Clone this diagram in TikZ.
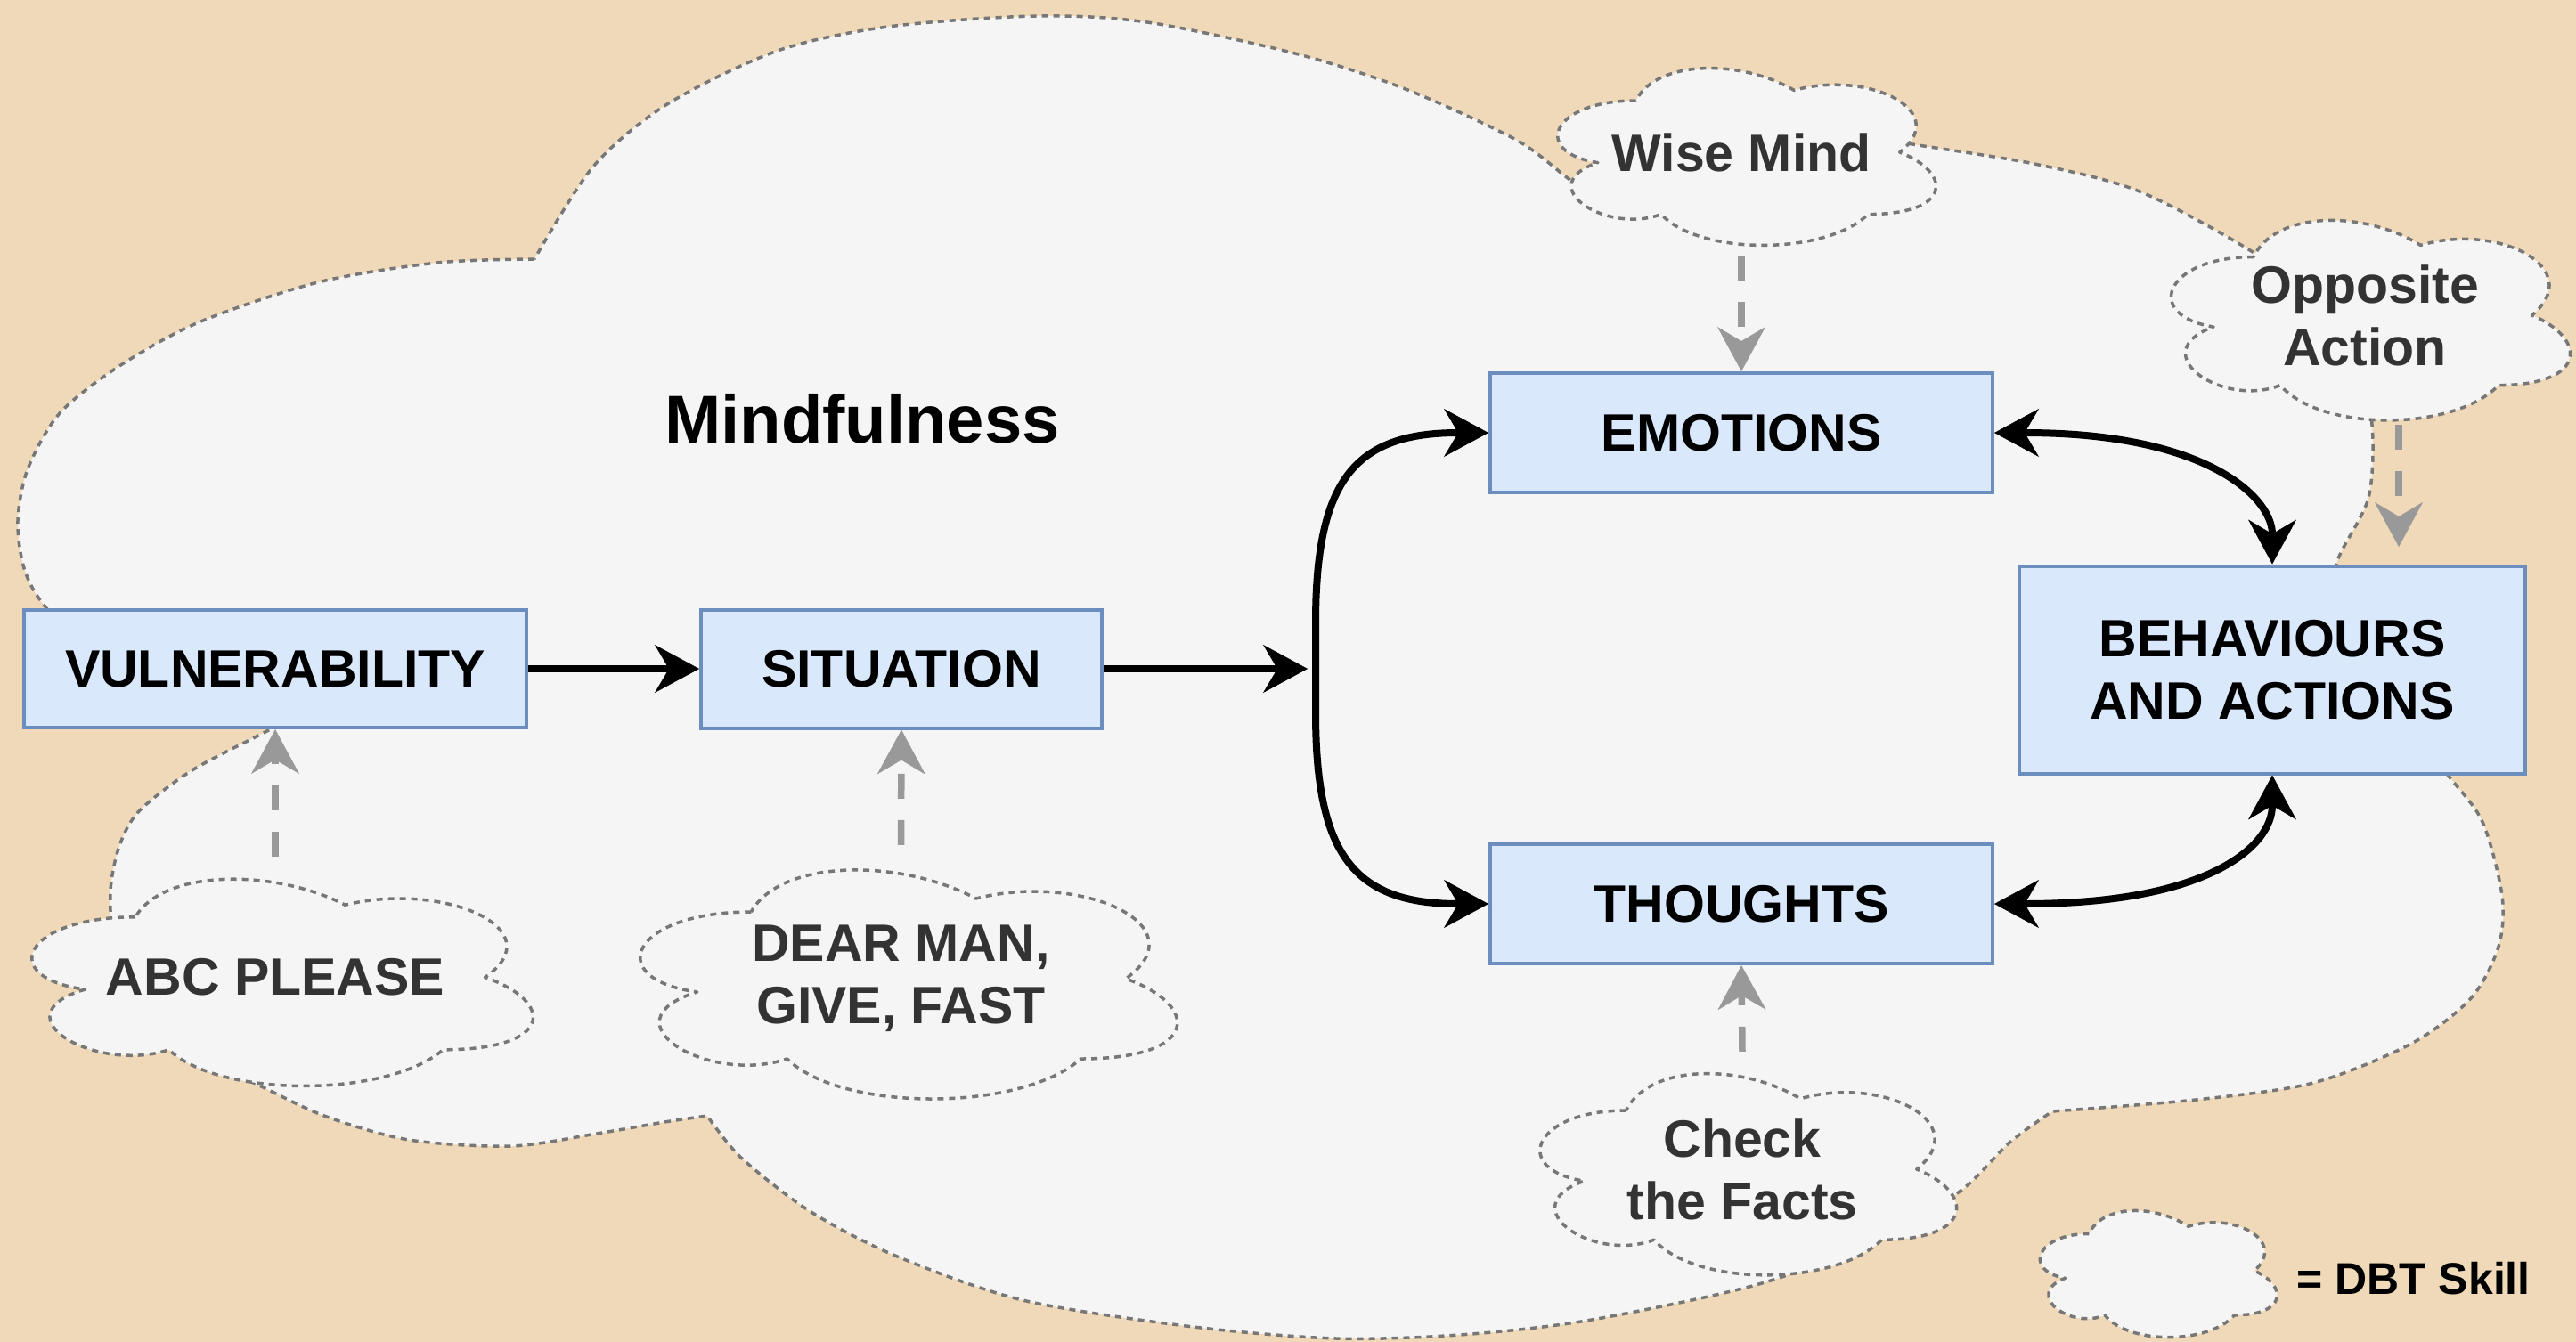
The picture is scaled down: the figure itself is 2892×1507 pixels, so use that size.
\documentclass[tikz,border=0pt]{standalone}
\usepackage{fontspec}
\setmainfont{Liberation Sans}
\usetikzlibrary{arrows.meta}

\definecolor{pagetan}{HTML}{EFD9B8}
\definecolor{cloudfill}{HTML}{F5F5F5}
\definecolor{cloudedge}{HTML}{777777}
\definecolor{boxfill}{HTML}{DAE8FC}
\definecolor{boxedge}{HTML}{6C8EBF}
\definecolor{skillink}{HTML}{333333}
\definecolor{skillgray}{HTML}{999999}

\newcommand\boxfont{\fontsize{59}{70}\selectfont\bfseries}
\newcommand\titlefont{\fontsize{76}{90}\selectfont\bfseries}
\newcommand\legendfont{\fontsize{50}{60}\selectfont\bfseries}

% draw.io style cloud filling the box with top-left corner (#1,#2), width #3, height #4
\newcommand\skillcloud[4]{%
  \begin{scope}[shift={(#1,#2)}, x=#3pt, y=-#4pt]
    \path[cloudline] (0.25,0.25) .. controls (0.05,0.25) and (0,0.5) .. (0.16,0.55)
      .. controls (0,0.66) and (0.18,0.9) .. (0.31,0.8)
      .. controls (0.4,1) and (0.7,1) .. (0.8,0.8)
      .. controls (1,0.8) and (1,0.6) .. (0.875,0.5)
      .. controls (1,0.3) and (0.8,0.1) .. (0.625,0.2)
      .. controls (0.5,0.05) and (0.3,0.05) .. (0.25,0.25) -- cycle;
  \end{scope}}

\tikzset{
  cloudline/.style={draw=cloudedge, fill=cloudfill, line width=3.5pt,
    dash pattern=on 7pt off 6pt, line join=round},
  stepbox/.style={draw=boxedge, fill=boxfill, line width=4pt, inner sep=0pt,
    font=\boxfont, align=center, text=black},
  skilltext/.style={inner sep=0pt, font=\boxfont, align=center, text=skillink},
  flow/.style={draw=black, line width=8pt,
    >={Stealth[length=50pt,width=54pt,inset=16pt,line width=0.5pt]}},
  skilllink/.style={draw=skillgray, line width=7.5pt, dash pattern=on 28pt off 24pt,
    -{Stealth[length=50pt,width=54pt,inset=16pt,line width=0.5pt]}},
}

\begin{document}
\begin{tikzpicture}[x=1pt, y=-1pt]
  \useasboundingbox (0,0) rectangle (2892,1507);
  \fill[pagetan] (0,0) rectangle (2892,1507);

  % large Mindfulness cloud, lobe by lobe
  \path[cloudline]
    plot[smooth] coordinates {(600,291) (491,295) (357,317) (223,362) (134,411)
      (67,464) (31,527) (20,585) (27,638) (49,679) (110,742) (210,787) (330,806)}
    -- plot[smooth] coordinates {(330,806) (290,826) (214,866) (156,911) (134,950)
      (124,1000) (128,1060) (150,1120) (195,1175) (287,1217) (364,1253) (459,1280)
      (574,1287) (670,1273) (746,1260) (794,1253)}
    -- plot[smooth] coordinates {(794,1253) (832,1300) (909,1360) (1005,1410)
      (1148,1460) (1340,1490) (1500,1503) (1638,1499) (1781,1483) (1971,1443)
      (2104,1393) (2200,1338) (2256,1283) (2304,1248)}
    -- plot[smooth] coordinates {(2304,1248) (2465,1235) (2597,1216) (2707,1172)
      (2774,1121) (2805,1063) (2809,1006) (2787,923) (2747,869) (2680,785) (2610,700)}
    -- plot[smooth] coordinates {(2610,700) (2624,630) (2659,559) (2663,477)
      (2645,405) (2600,340) (2529,283) (2402,215) (2284,184) (2141,161) (2040,143)
      (1930,145) (1850,185) (1805,232)}
    -- plot[smooth] coordinates {(1805,232) (1760,200) (1702,157) (1578,100)
      (1454,60) (1288,25) (1163,18) (997,30) (873,57) (749,117) (666,187) (600,291)}
    -- cycle;

  \node[font=\titlefont, anchor=base] (mind) at (968,497) {Mindfulness};

  % process boxes
  \node[stepbox, minimum width=564pt, minimum height=132pt] (vul) at (309,751) {VULNERABILITY};
  \node[stepbox, minimum width=450pt, minimum height=133pt] (sit) at (1012,751) {SITUATION};
  \node[stepbox, minimum width=564pt, minimum height=134pt] (emo) at (1955,486) {EMOTIONS};
  \node[stepbox, minimum width=564pt, minimum height=134pt] (tho) at (1955,1015) {THOUGHTS};
  \node[stepbox, minimum width=568pt, minimum height=233pt] (beh) at (2551,752) {BEHAVIOURS\\AND ACTIONS};

  % DBT skill clouds
  \skillcloud{-5}{962}{628}{271}
  \node[skilltext, minimum width=628pt, minimum height=271pt] (abc) at (309,1097.5) {ABC PLEASE};
  \skillcloud{675}{949}{673}{300}
  \node[skilltext, minimum width=673pt, minimum height=300pt] (dear) at (1011.5,1099) {DEAR MAN,\\GIVE, FAST};
  \skillcloud{1718}{55}{474}{232}
  \node[skilltext, minimum width=474pt, minimum height=232pt] (wise) at (1955,171) {Wise Mind};
  \skillcloud{2405}{223}{500}{262}
  \node[skilltext, minimum width=500pt, minimum height=262pt] (opp) at (2655,354) {Opposite\\Action};
  \skillcloud{1695}{1181}{522}{264}
  \node[skilltext, minimum width=522pt, minimum height=264pt] (check) at (1956,1313) {Check\\the Facts};

  % legend
  \skillcloud{2271}{1344}{297}{166}
  \node[font=\legendfont, anchor=base west, inner sep=0pt] (legend) at (2578,1453) {= DBT Skill};

  % main flow
  \coordinate (brk) at (1468,751);
  \draw[flow,->] (vul.east) -- (sit.west);
  \draw[flow,->] (sit.east) -- (brk);
  \draw[flow,<->] (emo.west) .. controls (1520,486) and (1477,540) .. (1477,700)
    -- (1477,800) .. controls (1477,960) and (1520,1015) .. (tho.west);
  \draw[flow,<->] (emo.east) .. controls (2480,486) and (2551,560) .. (beh.north);
  \draw[flow,<->] (tho.east) .. controls (2480,1015) and (2551,950) .. (beh.south);

  % skill links
  \coordinate (oaend) at (2693,614);
  \draw[skilllink] (abc.north) -- (vul.south);
  \draw[skilllink] (dear.north) -- (sit.south);
  \draw[skilllink] (wise.south) -- (emo.north);
  \draw[skilllink] (check.north) -- (tho.south);
  \draw[skilllink] ([yshift=8pt]opp.south -| oaend) -- (oaend);
\end{tikzpicture}
\end{document}
